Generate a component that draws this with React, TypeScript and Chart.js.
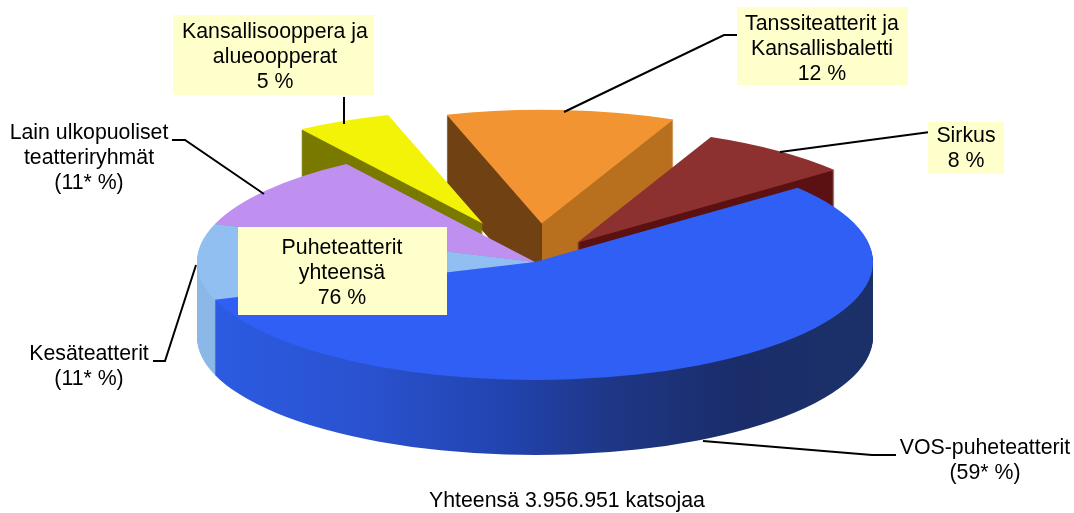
import React, { useEffect, useRef } from "react";
import { Chart, registerables } from "chart.js";

Chart.register(...registerables);

const categories = [
  "VOS-puheteatterit",
  "Kesäteatterit",
  "Lain ulkopuoliset teatteriryhmät",
  "Kansallisooppera ja alueoopperat",
  "Tanssiteatterit ja Kansallisbaletti",
  "Sirkus",
];
const values = [59, 11, 11, 5, 12, 8];
const topColors = ["#2f5ff5", "#92bff2", "#bf90f0", "#f3f308", "#f29432", "#8c3030"];
const explode = [0, 0, 0, 0.358, 0.326, 0.205];
const pieceScale = [1, 1, 1, 0.965, 0.965, 0.98];
const drawOrder = [4, 3, 5, 2, 1, 0];

const W = 1074;
const H = 513;
const CENTER_X = 535;
const CENTER_Y = 262;
const RADIUS_X = 338;
const RADIUS_Y = 118;
const DEPTH = 75;
const FONT = '21.3px "Liberation Sans", Arial, sans-serif';
const LINE_H = 25;

type Label = { lines: string[]; cx: number; y: number; box?: number[] };
const labels: Label[] = [
  { lines: ["Kansallisooppera ja", "alueoopperat", "5 %"], cx: 275, y: 32, box: [173, 15, 201, 80] },
  { lines: ["Tanssiteatterit ja", "Kansallisbaletti", "12 %"], cx: 822, y: 24, box: [737, 7, 171, 78] },
  { lines: ["Sirkus", "8 %"], cx: 966, y: 136, box: [928, 122, 76, 52] },
  { lines: ["Puheteatterit", "yhteensä", "76 %"], cx: 342, y: 248, box: [238, 227, 209, 88] },
  { lines: ["Lain ulkopuoliset", "teatteriryhmät", "(11* %)"], cx: 89, y: 133 },
  { lines: ["Kesäteatterit", "(11* %)"], cx: 89, y: 354 },
  { lines: ["VOS-puheteatterit", "(59* %)"], cx: 985, y: 448 },
  { lines: ["Yhteensä 3.956.951 katsojaa"], cx: 567, y: 501 },
];
const leaders: number[][][] = [
  [[344, 97], [344, 124]],
  [[737, 35], [724, 35], [564, 112]],
  [[930, 132], [780, 152]],
  [[172, 140], [185, 140], [264, 194]],
  [[153, 361], [165, 361], [196, 265]],
  [[703, 441], [872, 455], [896, 455]],
];

function wallFill(ctx: CanvasRenderingContext2D, i: number, el: any) {
  const R = el.outerRadius;
  const grad = (stops: [number, string][]) => {
    const g = ctx.createLinearGradient(el.x - R, 0, el.x + R, 0);
    stops.forEach(([p, c]) => g.addColorStop(p, c));
    return g;
  };
  if (i === 0)
    return grad([
      [0, "#2c5ce4"],
      [0.25, "#2a52cf"],
      [0.45, "#2244b0"],
      [0.62, "#1e3684"],
      [0.8, "#1a2d6a"],
      [1, "#1c3068"],
    ]);
  if (i === 1) return "#8cb8e8";
  if (i === 2) return "#9a70c8";
  if (i === 3) return "#7a7a00";
  if (i === 4)
    return grad([
      [0, "#6f4113"],
      [0.5, "#6f4113"],
      [0.5, "#b8701e"],
      [1, "#b8701e"],
    ]);
  return "#5c1212";
}

const pie3d = {
  id: "pie3d",
  beforeDatasetDraw(chart: any) {
    const ctx: CanvasRenderingContext2D = chart.ctx;
    const arcs: any[] = chart.getDatasetMeta(0).data;
    const place = (el: any, i: number, dy: number) => {
      const mid = (el.startAngle + el.endAngle) / 2;
      const ex = explode[i];
      const k = pieceScale[i];
      ctx.translate(
        CENTER_X + Math.cos(mid) * ex * RADIUS_X,
        CENTER_Y + Math.sin(mid) * ex * RADIUS_Y + dy
      );
      ctx.scale((k * RADIUS_X) / el.outerRadius, (k * RADIUS_Y) / el.outerRadius);
      ctx.translate(-el.x, -el.y);
    };
    const paint = (i: number, dy: number, fill: any) => {
      const el = arcs[i];
      const ghost = Object.create(el);
      ghost.options = { ...el.options, backgroundColor: fill, borderWidth: 0 };
      ctx.save();
      place(el, i, dy);
      ghost.draw(ctx);
      ctx.restore();
    };
    const walls = (i: number) => {
      ctx.save();
      place(arcs[i], i, 0);
      const fill = wallFill(ctx, i, arcs[i]);
      ctx.restore();
      for (let d = DEPTH; d > 0; d--) paint(i, d, fill);
    };
    // back pieces: wall then top, one by one
    drawOrder.slice(0, 3).forEach((i) => {
      walls(i);
      paint(i, 0, topColors[i]);
    });
    // the main disc: all walls, then all tops
    const front = drawOrder.slice(3);
    front.forEach(walls);
    front.forEach((i) => paint(i, 0, topColors[i]));
    return false;
  },
  afterDraw(chart: any) {
    const ctx: CanvasRenderingContext2D = chart.ctx;
    ctx.save();
    ctx.strokeStyle = "#000";
    ctx.lineWidth = 2;
    leaders.forEach((pts) => {
      ctx.beginPath();
      pts.forEach(([x, y], k) => (k ? ctx.lineTo(x, y) : ctx.moveTo(x, y)));
      ctx.stroke();
    });
    labels.forEach((l) => {
      if (l.box) {
        ctx.fillStyle = "#ffffcc";
        ctx.fillRect(l.box[0], l.box[1], l.box[2], l.box[3]);
      }
      ctx.fillStyle = "#000";
      ctx.font = FONT;
      ctx.textAlign = "center";
      ctx.textBaseline = "middle";
      l.lines.forEach((t, k) => ctx.fillText(t, l.cx, l.y + k * LINE_H));
    });
    ctx.restore();
  },
};

export default function App() {
  const ref = useRef<HTMLCanvasElement>(null);
  useEffect(() => {
    if (!ref.current) return;
    const chart = new Chart(ref.current, {
      type: "pie",
      data: {
        labels: categories,
        datasets: [{ data: values, backgroundColor: topColors, borderWidth: 0 }],
      },
      options: {
        responsive: false,
        animation: false,
        rotation: 51,
        layout: { padding: 0 },
        plugins: { legend: { display: false }, tooltip: { enabled: false } },
      },
      plugins: [pie3d],
    } as any);
    return () => chart.destroy();
  }, []);
  return (
    <div style={{ position: "absolute", left: 0, top: 0, width: W, height: H, background: "#fff" }}>
      <canvas ref={ref} width={W} height={H} style={{ display: "block" }} />
    </div>
  );
}
